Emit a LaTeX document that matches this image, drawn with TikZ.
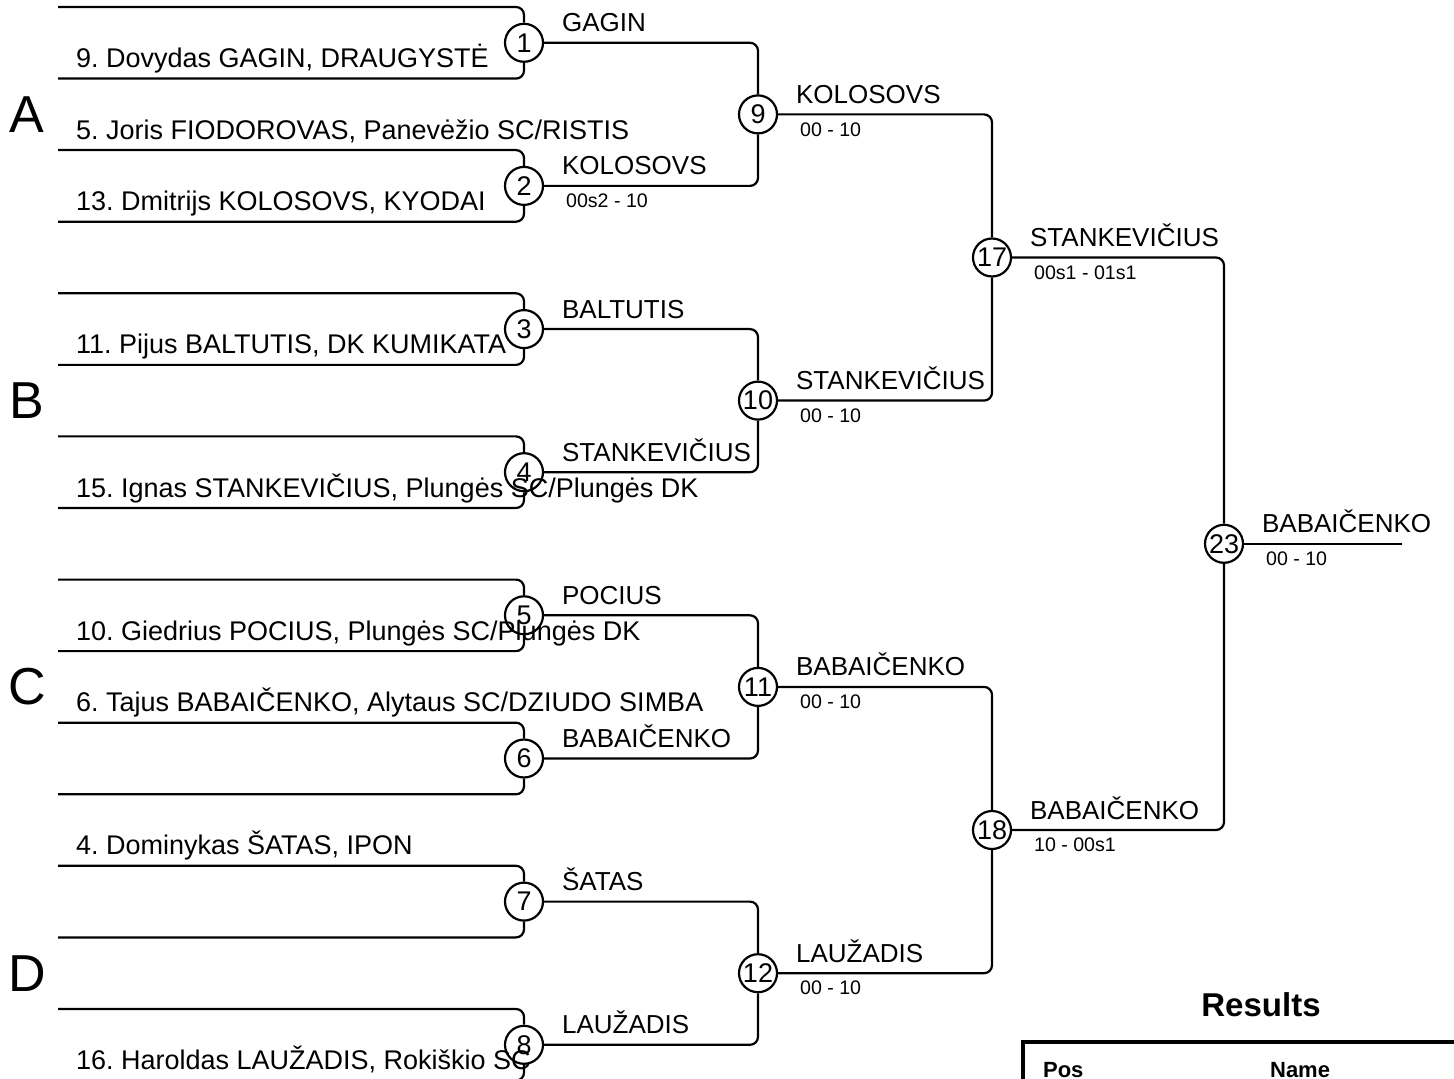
\documentclass[tikz,border=0pt]{standalone}
\usepackage{fontspec}
\setmainfont{Liberation Sans}
\frenchspacing
\begin{document}
\begin{tikzpicture}
  [x=0.5pt,y=-0.5pt,line width=1.1pt,
   mnode/.style={circle,draw=black,minimum size=19pt,inner sep=0pt,font=\fontsize{13.5}{13.5}\selectfont},
   pname/.style={anchor=base west,inner sep=0pt,font=\fontsize{13.5}{13.5}\selectfont},
   wname/.style={anchor=base west,inner sep=0pt,font=\fontsize{13}{13}\selectfont},
   wscore/.style={anchor=north west,inner sep=0pt,font=\fontsize{9.8}{10}\selectfont},
   grp/.style={inner sep=0pt,font=\fontsize{26}{26}\selectfont},
   thead/.style={anchor=base west,inner sep=0pt,font=\bfseries\fontsize{11}{11}\selectfont}]
  \fill[white] (0,0) rectangle (1454,1079);
  \useasboundingbox (0,0) rectangle (1454,1079);

  % slots
  \coordinate (s1) at (58,7);
  \coordinate (s2) at (58,78.6);
  \coordinate (s3) at (58,150.1);
  \coordinate (s4) at (58,221.7);
  \coordinate (s5) at (58,293.3);
  \coordinate (s6) at (58,364.9);
  \coordinate (s7) at (58,436.4);
  \coordinate (s8) at (58,508);
  \coordinate (s9) at (58,579.6);
  \coordinate (s10) at (58,651.1);
  \coordinate (s11) at (58,722.7);
  \coordinate (s12) at (58,794.3);
  \coordinate (s13) at (58,865.8);
  \coordinate (s14) at (58,937.4);
  \coordinate (s15) at (58,1009);
  \coordinate (s16) at (58,1080.6);
  \coordinate (fin) at (1402,543.8);

  % matches
  \node[mnode] (m1) at (524,42.8) {1};
  \node[mnode] (m2) at (524,185.9) {2};
  \node[mnode] (m3) at (524,329.1) {3};
  \node[mnode] (m4) at (524,472.2) {4};
  \node[mnode] (m5) at (524,615.3) {5};
  \node[mnode] (m6) at (524,758.5) {6};
  \node[mnode] (m7) at (524,901.6) {7};
  \node[mnode] (m8) at (524,1044.8) {8};
  \node[mnode] (m9) at (758,114.4) {9};
  \node[mnode] (m10) at (758,400.6) {10};
  \node[mnode] (m11) at (758,686.9) {11};
  \node[mnode] (m12) at (758,973.2) {12};
  \node[mnode] (m17) at (992,257.5) {17};
  \node[mnode] (m18) at (992,830) {18};
  \node[mnode] (m23) at (1224,543.8) {23};

  \foreach \from/\to in {s1/m1,s2/m1,s3/m2,s4/m2,s5/m3,s6/m3,s7/m4,s8/m4,
      s9/m5,s10/m5,s11/m6,s12/m6,s13/m7,s14/m7,s15/m8,s16/m8,
      m1/m9,m2/m9,m3/m10,m4/m10,m5/m11,m6/m11,m7/m12,m8/m12,
      m9/m17,m10/m17,m11/m18,m12/m18,m17/m23,m18/m23}
    \draw[rounded corners=4pt] (\from) -| (\to);
  \draw (m23) -- (fin);

  % players
  \node[pname] (p2) at (75,67.6) {9. Dovydas GAGIN, DRAUGYSTĖ};
  \node[pname] (p3) at (75,139.1) {5. Joris FIODOROVAS, Panevėžio SC/RISTIS};
  \node[pname] (p4) at (75,210.7) {13. Dmitrijs KOLOSOVS, KYODAI};
  \node[pname] (p6) at (75,353.9) {11. Pijus BALTUTIS, DK KUMIKATA};
  \node[pname] (p8) at (75,497) {15. Ignas STANKEVIČIUS, Plungės SC/Plungės DK};
  \node[pname] (p10) at (75,640.1) {10. Giedrius POCIUS, Plungės SC/Plungės DK};
  \node[pname] (p11) at (75,711.7) {6. Tajus BABAIČENKO, Alytaus SC/DZIUDO SIMBA};
  \node[pname] (p13) at (75,854.8) {4. Dominykas ŠATAS, IPON};
  \node[pname] (p16) at (75,1069.5) {16. Haroldas LAUŽADIS, Rokiškio SC};

  % winners
  \node[wname] (w1) at (561,31.8) {GAGIN};
  \node[wname] (w2) at (561,174.9) {KOLOSOVS};
  \node[wname] (w3) at (561,318.1) {BALTUTIS};
  \node[wname] (w4) at (561,461.2) {STANKEVIČIUS};
  \node[wname] (w5) at (561,604.3) {POCIUS};
  \node[wname] (w6) at (561,747.5) {BABAIČENKO};
  \node[wname] (w7) at (561,890.6) {ŠATAS};
  \node[wname] (w8) at (561,1033.8) {LAUŽADIS};
  \node[wname] (w9) at (795,103.4) {KOLOSOVS};
  \node[wname] (w10) at (795,389.6) {STANKEVIČIUS};
  \node[wname] (w11) at (795,675.9) {BABAIČENKO};
  \node[wname] (w12) at (795,962.2) {LAUŽADIS};
  \node[wname] (w17) at (1029,246.5) {STANKEVIČIUS};
  \node[wname] (w18) at (1029,819) {BABAIČENKO};
  \node[wname] (w23) at (1261,532.8) {BABAIČENKO};

  % scores
  \node[wscore] (c2) at (565,192.9) {00s2 - 10};
  \node[wscore] (c9) at (799,121.4) {00 - 10};
  \node[wscore] (c10) at (799,407.6) {00 - 10};
  \node[wscore] (c11) at (799,693.9) {00 - 10};
  \node[wscore] (c12) at (799,980.2) {00 - 10};
  \node[wscore] (c17) at (1033,264.5) {00s1 - 01s1};
  \node[wscore] (c18) at (1033,837) {10 - 00s1};
  \node[wscore] (c23) at (1265,550.8) {00 - 10};

  % pools
  \node[grp] (ga) at (27,114.4) {A};
  \node[grp] (gb) at (27,400.6) {B};
  \node[grp] (gc) at (27,686.9) {C};
  \node[grp] (gd) at (27,973.2) {D};

  % results table
  \node[inner sep=0pt,font=\bfseries\fontsize{16.5}{17}\selectfont] (res) at (1261,1005) {Results};
  \draw[line width=2pt] (1023,1082) -- (1023,1042) -- (1456,1042);
  \node[thead] (tpos) at (1042,1077) {Pos};
  \node[thead] (tname) at (1269,1077) {Name};
\end{tikzpicture}
\end{document}
